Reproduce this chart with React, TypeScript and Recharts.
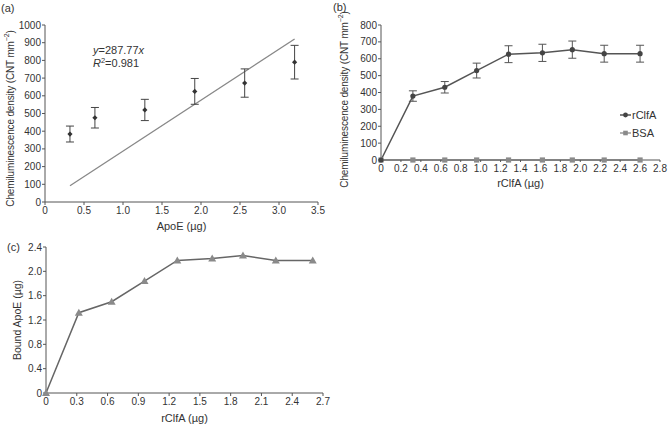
import React from 'react';
import {
  ComposedChart, LineChart, Line, Scatter, XAxis, YAxis, ErrorBar, ReferenceLine, ReferenceDot, Label, Legend,
} from 'recharts';

// ---------- data ----------
const apoeX = [0.32, 0.64, 1.28, 1.92, 2.56, 3.2];
const apoeSignal = [384, 476, 520, 625, 672, 790];
const apoeErr = [45, 58, 60, 73, 80, 95];
const trendX = [0.32, 3.2];
const trendY = [92, 921];

const rclfaX = [0, 0.32, 0.64, 0.96, 1.28, 1.62, 1.92, 2.24, 2.6];
const rclfaSignal = [0, 379, 431, 530, 627, 635, 654, 630, 630];
const rclfaErr = [0, 31, 34, 44, 50, 51, 51, 50, 50];
const bsaSignal = [0, 0, 0, 0, 0, 0, 0, 0, 0];
const boundApoE = [0, 1.32, 1.5, 1.84, 2.18, 2.21, 2.26, 2.18, 2.18];

const aXTicks = [0, 0.5, 1.0, 1.5, 2.0, 2.5, 3.0, 3.5];
const aYTicks = [0, 100, 200, 300, 400, 500, 600, 700, 800, 900, 1000];
const bXTicks = [0, 0.2, 0.4, 0.6, 0.8, 1.0, 1.2, 1.4, 1.6, 1.8, 2.0, 2.2, 2.4, 2.6, 2.8];
const bYTicks = [0, 100, 200, 300, 400, 500, 600, 700, 800];
const cXTicks = [0, 0.3, 0.6, 0.9, 1.2, 1.5, 1.8, 2.1, 2.4, 2.7];
const cYTicks = [0, 0.4, 0.8, 1.2, 1.6, 2.0, 2.4];

// ---------- tables ----------
const dataA = apoeX.map((x, i) => ({ x, y: apoeSignal[i], err: apoeErr[i] }));
const dataB = rclfaX.map((x, i) => ({ x, rclfa: rclfaSignal[i], err: rclfaErr[i], bsa: bsaSignal[i] }));
const dataC = rclfaX.map((x, i) => ({ x, bound: boundApoE[i] }));

const FONT = '"Liberation Sans", Arial, Helvetica, sans-serif';
const AXIS = '#555';
const TXT = '#333';

const fmt1 = (v: number) => (v === 0 ? '0' : v.toFixed(1));
const fmt0 = (v: number) => String(v);

const tickStyle = { fill: TXT, fontSize: 10, fontFamily: FONT };

const vLabel = (content: React.ReactNode, dx: number, fs: number, shift = 0, ls = 0) => (props: any) => {
  const vb = props.viewBox || { x: 0, y: 0, width: 0, height: 0 };
  const x = vb.x + dx;
  const y = vb.y + vb.height / 2 + shift;
  return (
    <text x={x} y={y} transform={`rotate(-90 ${x} ${y})`} textAnchor="middle" dominantBaseline="central"
      fill={TXT} fontSize={fs} fontFamily={FONT} letterSpacing={ls}>
      {content}
    </text>
  );
};

const hLabel = (content: React.ReactNode, dy: number) => (props: any) => {
  const vb = props.viewBox || { x: 0, y: 0, width: 0, height: 0 };
  const x = vb.x + vb.width / 2;
  const y = vb.y + dy;
  return (
    <text x={x} y={y} textAnchor="middle" dominantBaseline="central" fill={TXT} fontSize={11} fontFamily={FONT}>
      {content}
    </text>
  );
};

const cntLabel = (
  <>
    <tspan>Chemiluminescence density (CNT mm</tspan>
    <tspan dy={-4} fontSize={7}>−2</tspan>
    <tspan dy={4}>)</tspan>
  </>
);

const Diamond = (p: any) => {
  const { cx, cy } = p;
  if (cx == null || cy == null) return null;
  const r = 2.6;
  return <path d={`M${cx},${cy - r}L${cx + r},${cy}L${cx},${cy + r}L${cx - r},${cy}Z`} fill="#333" />;
};

const CircleDot = (p: any) => {
  const { cx, cy, index } = p;
  if (cx == null || cy == null) return null;
  return <circle key={`c${index}`} cx={cx} cy={cy} r={2.6} fill="#444" />;
};

const SquareDot = (p: any) => {
  const { cx, cy, index } = p;
  if (cx == null || cy == null) return null;
  return <rect key={`s${index}`} x={cx - 2.6} y={cy - 2.6} width={5.2} height={5.2} fill="#8a8a8a" />;
};

const TriDot = (p: any) => {
  const { cx, cy, index } = p;
  if (cx == null || cy == null) return null;
  const s = 4;
  return (
    <path key={`t${index}`} d={`M${cx},${cy - s}L${cx + s},${cy + s * 0.75}L${cx - s},${cy + s * 0.75}Z`} fill="#8a8a8a" />
  );
};

const Equation = (p: any) => {
  const { cx, cy } = p;
  if (cx == null || cy == null) return null;
  return (
    <g fontFamily={FONT} fontSize={11} fill={TXT}>
      <text x={cx} y={cy}>
        <tspan fontStyle="italic">y</tspan>
        <tspan>=287.77</tspan>
        <tspan fontStyle="italic">x</tspan>
      </text>
      <text x={cx} y={cy + 13}>
        <tspan fontStyle="italic">R</tspan>
        <tspan dy={-4} fontSize={7.5}>2</tspan>
        <tspan dy={4}>=0.981</tspan>
      </text>
    </g>
  );
};

const LegendB = () => (
  <svg width={50} height={36} style={{ overflow: 'visible' }}>
    <g>
      <line x1={0} y1={6} x2={11} y2={6} stroke="#555" strokeWidth={1.5} />
      <circle cx={5.5} cy={6} r={2.4} fill="#444" />
      <text x={12} y={6} dominantBaseline="central" fontSize={11} fontFamily={FONT} fill={TXT}>rClfA</text>
    </g>
    <g>
      <line x1={0} y1={24} x2={11} y2={24} stroke="#999" strokeWidth={1.5} />
      <rect x={3.2} y={21.7} width={4.6} height={4.6} fill="#8a8a8a" />
      <text x={12} y={24} dominantBaseline="central" fontSize={11} fontFamily={FONT} fill={TXT}>BSA</text>
    </g>
  </svg>
);

const panelTag: React.CSSProperties = {
  position: 'absolute', fontFamily: FONT, fontSize: 11, color: TXT, lineHeight: '12px',
};

export default function App() {
  return (
    <div style={{ position: 'absolute', left: 0, top: 0, width: 669, height: 425, background: '#fff', overflow: 'hidden' }}>
      {/* Panel (a) */}
      <div style={{ position: 'absolute', left: 0, top: 0 }}>
        <ComposedChart width={330} height={235} data={dataA} margin={{ top: 25, right: 12, left: 0, bottom: 0 }}>
          <XAxis type="number" dataKey="x" domain={[0, 3.5]} ticks={aXTicks} tickFormatter={fmt1}
            stroke={AXIS} tick={tickStyle} tickSize={3} tickMargin={2} height={33} interval={0}>
            <Label content={hLabel('ApoE (µg)', 24)} />
          </XAxis>
          <YAxis type="number" domain={[0, 1000]} ticks={aYTicks} tickFormatter={fmt0}
            stroke={AXIS} tick={tickStyle} tickSize={3} tickMargin={1} width={45} interval={0}>
            <Label content={vLabel(cntLabel, 10, 10, 5, -0.15)} />
          </YAxis>
          <ReferenceLine segment={[{ x: trendX[0], y: trendY[0] }, { x: trendX[1], y: trendY[1] }]}
            stroke="#888" strokeWidth={1.3} ifOverflow="extendDomain" />
          <Scatter dataKey="y" fill="#333" shape={Diamond} isAnimationActive={false}>
            <ErrorBar dataKey="err" direction="y" width={4} stroke="#444" strokeWidth={1} />
          </Scatter>
          <ReferenceDot x={0.615} y={835} r={0} shape={Equation} ifOverflow="visible" />
        </ComposedChart>
      </div>
      <div style={{ ...panelTag, left: 1, top: 2 }}>(a)</div>

      {/* Panel (b) */}
      <div style={{ position: 'absolute', left: 335, top: 0 }}>
        <ComposedChart width={334} height={235} data={dataB} margin={{ top: 25, right: 9, left: 0, bottom: 0 }}>
          <XAxis type="number" dataKey="x" domain={[0, 2.8]} ticks={bXTicks} tickFormatter={fmt1}
            stroke={AXIS} tick={tickStyle} tickSize={2} tickMargin={3} height={35} interval={0}>
            <Label content={hLabel('rClfA (µg)', 23)} />
          </XAxis>
          <YAxis type="number" domain={[0, 800]} ticks={bYTicks} tickFormatter={fmt0}
            stroke={AXIS} tick={tickStyle} tickSize={3} tickMargin={1} width={46} interval={0}>
            <Label content={vLabel(cntLabel, 9, 10, 7, -0.15)} />
          </YAxis>
          <Line dataKey="bsa" stroke="#999" strokeWidth={1.5} dot={SquareDot} activeDot={false} isAnimationActive={false} />
          <Line dataKey="rclfa" stroke="#555" strokeWidth={1.5} dot={CircleDot} activeDot={false} isAnimationActive={false}>
            <ErrorBar dataKey="err" direction="y" width={4} stroke="#555" strokeWidth={1} />
          </Line>
          <Legend content={LegendB} wrapperStyle={{ position: 'absolute', left: 285, top: 109, width: 50 }} />
        </ComposedChart>
      </div>
      <div style={{ ...panelTag, left: 333, top: 1 }}>(b)</div>

      {/* Panel (c) */}
      <div style={{ position: 'absolute', left: 0, top: 235 }}>
        <LineChart width={335} height={190} data={dataC} margin={{ top: 12, right: 12, left: 0, bottom: 0 }}>
          <XAxis type="number" dataKey="x" domain={[0, 2.7]} ticks={cXTicks} tickFormatter={fmt1}
            stroke={AXIS} tick={tickStyle} tickSize={3} tickMargin={2} height={32} interval={0}>
            <Label content={hLabel('rClfA (µg)', 25)} />
          </XAxis>
          <YAxis type="number" domain={[0, 2.4]} ticks={cYTicks} tickFormatter={fmt1}
            stroke={AXIS} tick={tickStyle} tickSize={3} tickMargin={1} width={46} interval={0}>
            <Label content={vLabel('Bound ApoE (µg)', 17, 10.5)} />
          </YAxis>
          <Line dataKey="bound" stroke="#666" strokeWidth={1.5} dot={TriDot} activeDot={false} isAnimationActive={false} />
        </LineChart>
      </div>
      <div style={{ ...panelTag, left: 7, top: 241 }}>(c)</div>
    </div>
  );
}
